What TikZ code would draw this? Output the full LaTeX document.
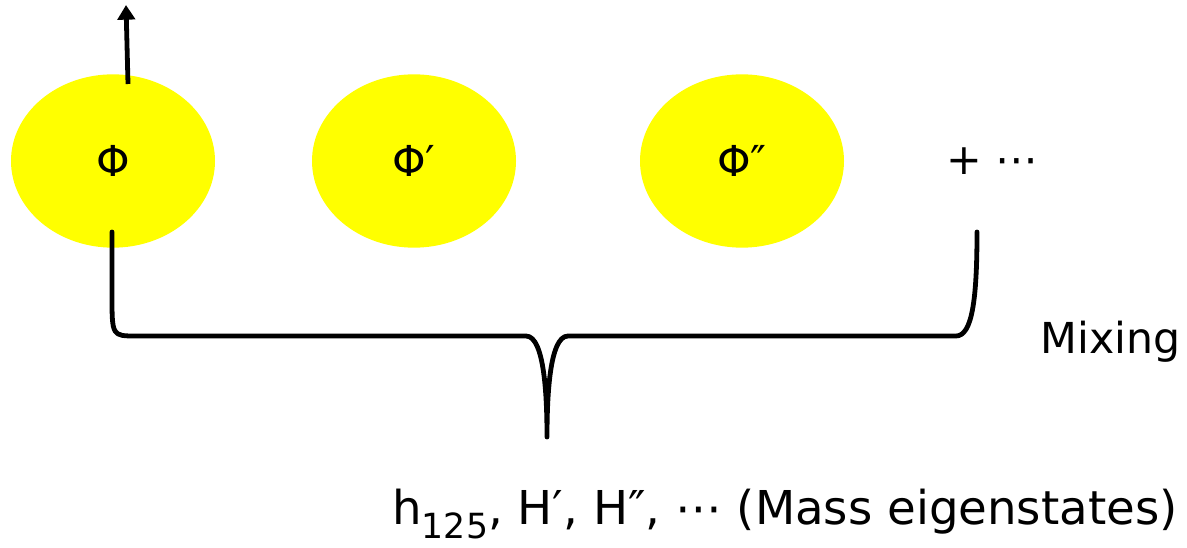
\documentclass[tikz,border=0pt]{standalone}
\usepackage{fontspec}
\setmainfont{DejaVu Sans}
\usetikzlibrary{shapes.geometric,arrows.meta}
\definecolor{fieldyellow}{RGB}{255,255,0}
\tikzset{
  field/.style={
    shape = ellipse,
    fill = fieldyellow,
    inner sep = 0pt,
    minimum width = 153pt,
    minimum height = 130pt
  },
  brace/.style={
    line width = 3.6pt,
    line cap = round,
    line join = round
  },
  every picture/.style = {
    x = 0.75pt,
    y = 0.75pt,
    font = \fontsize{32}{38}\selectfont
  }
}

\begin{document}
\begin{tikzpicture}
        \useasboundingbox (0,0) rectangle (1187,-548);
        \foreach \x/\n/\t in {113/1/Φ,414/2/Φ′,742/3/Φ″}{
                \node[field] (phi\n) at (\x,-161) {\t};
            }
        \node (more) at (992,-161) {+ ⋯};
        \node[anchor=west] (mixing) at (1036,-342) {Mixing};
        \node[font=\fontsize{35}{40}\selectfont,inner sep=0pt] (mass) at (785,-514) {h\raisebox{-0.28em}{\fontsize{26}{26}\selectfont 125}, H′, H″, ⋯ (Mass eigenstates)};
        % arrow out of the first field
        \coordinate (out) at (128,-84);
        \coordinate (up) at (126,-5);
        \draw[line width=3.6pt,-{Triangle[width=13pt,length=11pt]}] (out) -- (up);
        % brace
        \coordinate (bl) at (112,-232);
        \coordinate (br) at (977,-232);
        \coordinate (tip) at (547,-437);
        \draw[brace] (bl) -- (112,-295) .. controls (112,-336) .. (136,-336)
            -- (526,-336) .. controls (545,-336) and (547,-400) .. (tip)
            .. controls (547,-400) and (549,-336) .. (568,-336)
            -- (956,-336) .. controls (972,-336) and (977,-300) .. (br);
    \end{tikzpicture}
\end{document}
